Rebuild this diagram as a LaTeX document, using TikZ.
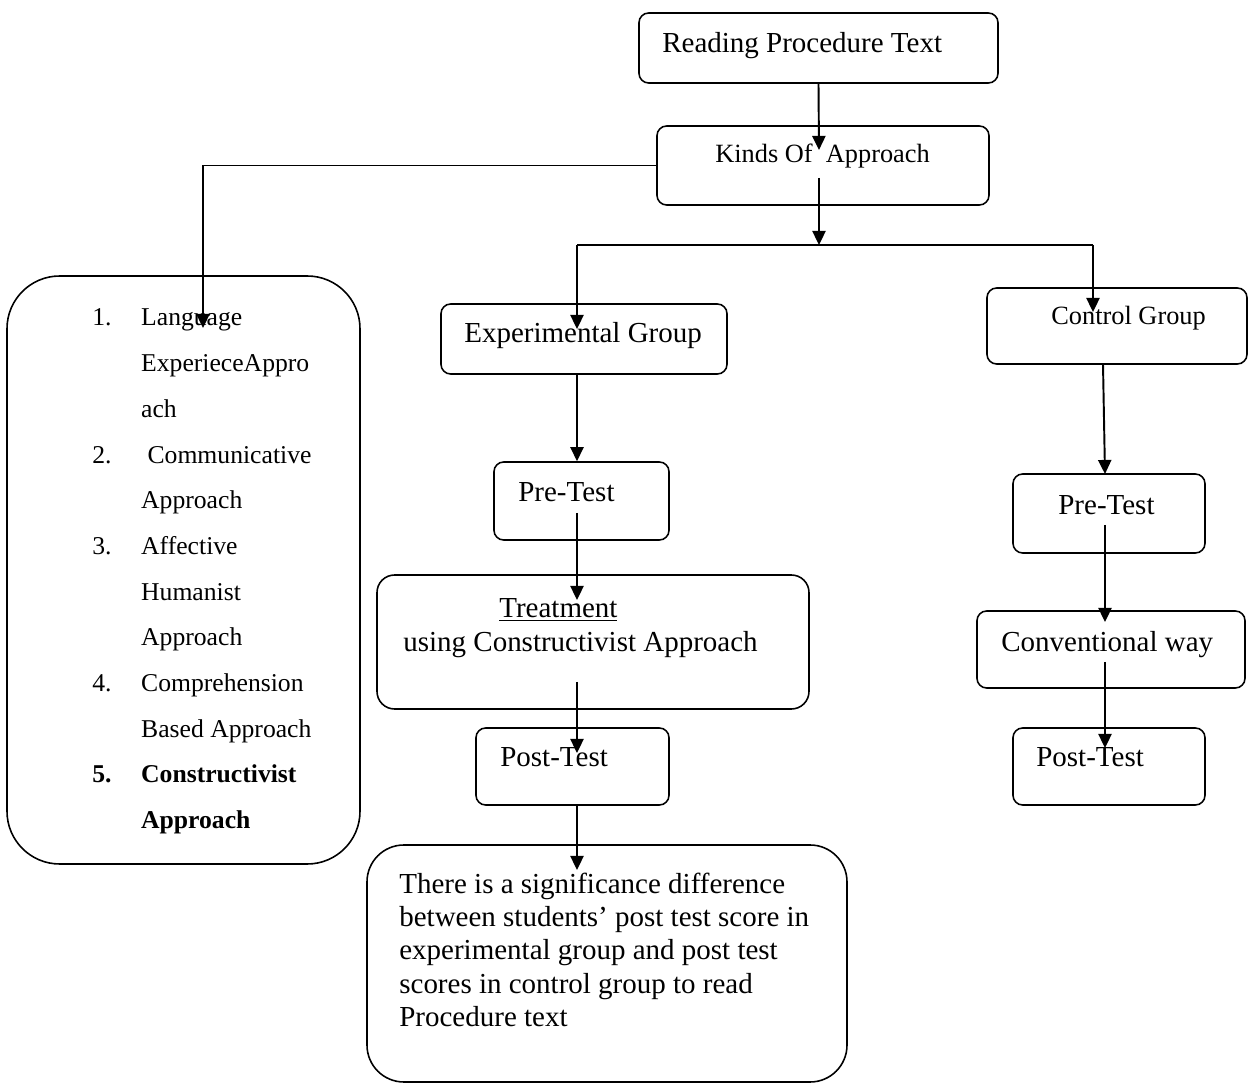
\documentclass[tikz,border=0pt]{standalone}
\usepackage{fontspec}
\setmainfont{Liberation Serif}
\usetikzlibrary{arrows.meta,fit}

\newcommand\boxfont{\fontsize{16.5}{19}\selectfont}
\newcommand\smallboxfont{\fontsize{15}{18}\selectfont}
\newcommand\listfont{\fontsize{14.6}{26}\selectfont}

\tikzset{
  box/.style={draw, line width=0.9pt, rounded corners=5.5pt, inner sep=0pt},
  txt/.style={anchor=base west, inner sep=0pt, font=\boxfont},
  arrow/.style={line width=1.1pt, -{Triangle[length=8pt,width=7.5pt]}},
  link/.style={line width=1.1pt}
}

\begin{document}
\begin{tikzpicture}[x=0.02cm, y=-0.02cm]
  \useasboundingbox (0,0) rectangle (1249,1084);
  % frames
  \node[box, fit={(639,13) (998,83)}] (reading) {};
  \node[box, fit={(657,126) (989,205)}] (kinds) {};
  \node[box, rounded corners=30pt, fit={(7,276) (360,864)}] (kindslist) {};
  \node[box, fit={(441,304) (727,374)}] (expgroup) {};
  \node[box, fit={(494,462) (669,540)}] (exppre) {};
  \node[box, rounded corners=10pt, fit={(377,575) (809,709)}] (treat) {};
  \node[box, fit={(476,728) (669,805)}] (exppost) {};
  \node[box, rounded corners=21pt, fit={(367,845) (847,1082)}] (result) {};
  \node[box, fit={(987,288) (1247,364)}] (ctrlgroup) {};
  \node[box, fit={(1013,474) (1205,553)}] (ctrlpre) {};
  \node[box, fit={(977,611) (1245,688)}] (conv) {};
  \node[box, fit={(1013,728) (1205,805)}] (ctrlpost) {};

  % texts
  \node[txt] (reading-t) at (662,53) {Reading Procedure Text};
  \node[txt, font=\smallboxfont] (kinds-t) at (715,163) {Kinds Of\ \ Approach};
  \node[txt, font=\listfont] (kindslist-t) at (92,326) {%
    \begin{tabular}[t]{@{}p{27.8pt}@{}l@{}}
      1. & Language\\
         & ExperieceAppro\\
         & ach\\
      2. & \ Communicative\\
         & Approach\\
      3. & Affective\\
         & Humanist\\
         & Approach\\
      4. & Comprehension\\
         & Based Approach\\
      \textbf{5.} & \textbf{Constructivist}\\
         & \textbf{Approach}
    \end{tabular}};
  \node[txt] (expgroup-t) at (464,343) {Experimental Group};
  \node[txt] (exppre-t) at (518,502) {Pre-Test};
  \node[txt] (treat-t) at (499,618) {\underline{Treatment}};
  \node[txt] (treatuse-t) at (403,652) {using Constructivist Approach};
  \node[txt] (exppost-t) at (500,767) {Post-Test};
  \node[txt] (result-t) at (399,893) {%
    \begin{tabular}[t]{@{}l@{}}
      There is a significance difference\\
      between students’ post test score in\\
      experimental group and post test\\
      scores in control group to read\\
      Procedure text
    \end{tabular}};
  \node[txt, font=\smallboxfont] (ctrlgroup-t) at (1051,325) {Control Group};
  \node[txt] (ctrlpre-t) at (1058,515) {Pre-Test};
  \node[txt] (conv-t) at (1001,652) {Conventional way};
  \node[txt] (ctrlpost-t) at (1036,767) {Post-Test};

  % arrow ends
  \coordinate (kinds-in) at (819,150);
  \coordinate (kinds-out) at (819,178);
  \coordinate (split) at (819,245);
  \coordinate (split-l) at (577,245);
  \coordinate (split-r) at (1093,245);
  \coordinate (expgroup-in) at (577,329);
  \coordinate (ctrlgroup-in) at (1093,312);
  \coordinate (kindslist-in) at (203,328);
  \coordinate (exppre-out) at (577,513);
  \coordinate (treat-in) at (577,600);
  \coordinate (treat-out) at (577,682);
  \coordinate (exppost-in) at (577,753);
  \coordinate (result-in) at (577,870);
  \coordinate (ctrlgroup-out) at (1103,364);
  \coordinate (ctrlpre-in) at (1105,474);
  \coordinate (ctrlpre-out) at (1105,525);
  \coordinate (conv-in) at (1105,622);
  \coordinate (conv-out) at (1105,662);
  \coordinate (ctrlpost-in) at (1105,748);

  \draw[link] (split-l) to (split-r);
  \begin{scope}[arrow]
    \draw (reading.south) to (kinds-in);
    \draw (kinds-out) to (split);
    \draw (split-l) to (expgroup-in);
    \draw (split-r) to (ctrlgroup-in);
    \draw (kinds.west) -| (kindslist-in);
    \draw (expgroup.south -| split-l) to (exppre.north -| split-l);
    \draw (exppre-out) to (treat-in);
    \draw (treat-out) to (exppost-in);
    \draw (exppost.south -| split-l) to (result-in);
    \draw (ctrlgroup-out) to (ctrlpre-in);
    \draw (ctrlpre-out) to (conv-in);
    \draw (conv-out) to (ctrlpost-in);
  \end{scope}
\end{tikzpicture}
\end{document}
